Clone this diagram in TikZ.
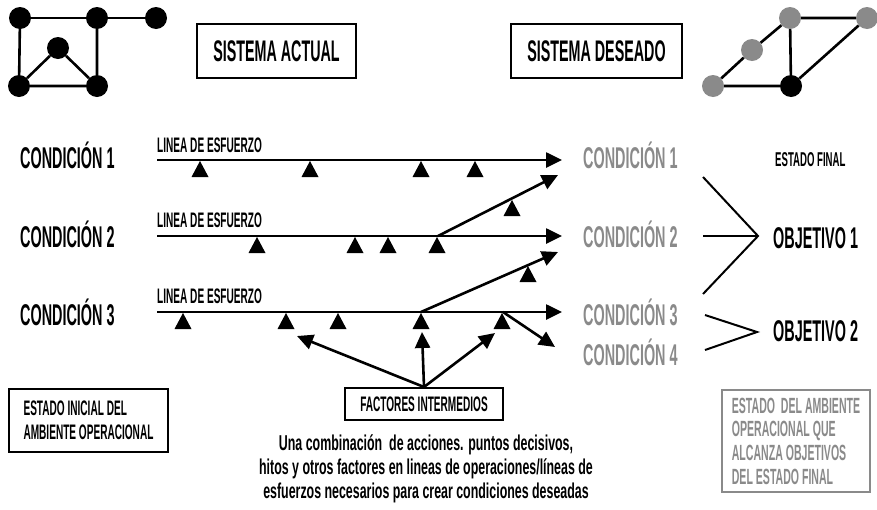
\documentclass[tikz,border=0pt]{standalone}
\usepackage{fontspec}
\setmainfont{Liberation Sans}[FakeStretch=0.48]
\newfontfamily\descfont{Liberation Sans}[FakeStretch=0.577]
\usetikzlibrary{arrows.meta}
\definecolor{gris}{HTML}{8A8A8A}

\begin{document}
\begin{tikzpicture}[x=1pt,y=-1pt,
  every node/.append style={font=\bfseries},
  dot/.style={circle,fill=black,minimum size=22pt,inner sep=0pt},
  gdot/.style={dot,fill=gris},
  edge/.style={line width=2.6pt},
  arr/.style={line width=2.6pt,-{Triangle[length=16pt,width=15pt]}},
  brace/.style={line width=2pt},
  txtbig/.style={font=\fontsize{30}{32}\selectfont\bfseries,inner sep=0pt,anchor=base west},
  txtmid/.style={font=\fontsize{21}{24}\selectfont\bfseries,inner sep=0pt,anchor=base west},
  txtsml/.style={font=\fontsize{20}{24}\selectfont\bfseries,inner sep=0pt,anchor=base west},
  box/.style={draw,line width=2pt,inner sep=0pt,align=left},
  tri/.pic={\fill (0,0) -- (-8.5,16) -- (8.5,16) -- cycle;}
]
\useasboundingbox (0,0) rectangle (877,509);

% --- current system graph ---
\node[dot] (a1) at (20,18) {};
\node[dot] (a2) at (97,18) {};
\node[dot] (a3) at (156,18) {};
\node[dot] (a4) at (58,48) {};
\node[dot] (a5) at (19,86) {};
\node[dot] (a6) at (97,86) {};
\draw[edge] (a1) -- (a2) -- (a3);
\draw[edge] (a1) -- (a5) -- (a6) -- (a2);
\draw[edge] (a5) -- (a4) -- (a6);

% --- desired system graph ---
\node[gdot] (b1) at (790,18) {};
\node[gdot] (b2) at (867,18) {};
\node[gdot] (b3) at (752,50) {};
\node[gdot] (b4) at (713,86) {};
\node[dot]  (b5) at (791,86) {};
\draw[edge] (b1) -- (b2) -- (b5) -- (b4) -- (b3) -- (b1) -- (b5);

% --- title boxes ---
\node[box,font=\fontsize{29.8}{32}\selectfont\bfseries,minimum width=159pt,minimum height=54pt] (sa) at (276.5,51) {SISTEMA ACTUAL};
\node[box,font=\fontsize{29.8}{32}\selectfont\bfseries,minimum width=171pt,minimum height=54pt] (sd) at (596.5,51) {SISTEMA DESEADO};

% --- initial conditions ---
\node[txtbig] (c1) at (20,168) {CONDICIÓN 1};
\node[txtbig] (c2) at (20,247) {CONDICIÓN 2};
\node[txtbig] (c3) at (20,325) {CONDICIÓN 3};

\node[txtmid] (l1) at (157,152) {LINEA DE ESFUERZO};
\node[txtmid] (l2) at (157,227) {LINEA DE ESFUERZO};
\node[txtmid] (l3) at (157,303) {LINEA DE ESFUERZO};

% --- lines of effort ---
\coordinate (s1) at (157,160); \coordinate (e1) at (562,160);
\coordinate (s2) at (157,236); \coordinate (e2) at (562,236);
\coordinate (s3) at (157,312); \coordinate (e3) at (562,312);
\coordinate (k2) at (438,236); \coordinate (t2) at (558,175);
\coordinate (k3) at (421,312); \coordinate (t3) at (558,252);
\coordinate (k4) at (503,312); \coordinate (t4) at (555,347);

\draw[arr] (s1) -- (e1);
\draw[arr] (s2) -- (e2);
\draw[arr] (s3) -- (e3);
\draw[arr] (k2) -- (t2);
\draw[arr] (k3) -- (t3);
\draw[arr] (k4) -- (t4);

% decisive points
\foreach \x in {200,310,421,475} \pic at (\x,161) {tri};
\foreach \x in {257,355,388,437} \pic at (\x,237) {tri};
\foreach \x in {183,286,338,421,502} \pic at (\x,313) {tri};
\pic at (512,200) {tri};
\pic at (528,266) {tri};

% --- desired conditions ---
\node[txtbig,text=gris] (d1) at (583,168) {CONDICIÓN 1};
\node[txtbig,text=gris] (d2) at (583,247) {CONDICIÓN 2};
\node[txtbig,text=gris] (d3) at (583,325) {CONDICIÓN 3};
\node[txtbig,text=gris] (d4) at (583,365) {CONDICIÓN 4};

\node[txtsml] (ef) at (775,166) {ESTADO FINAL};
\node[txtbig] (o1) at (773,248) {OBJETIVO 1};
\node[txtbig] (o2) at (773,341) {OBJETIVO 2};

\coordinate (g1) at (703,177); \coordinate (g2) at (703,236);
\coordinate (g3) at (703,294); \coordinate (gv) at (758,236);
\draw[brace] (g1) -- (gv) -- (g3);
\draw[brace] (g2) -- (gv);
\coordinate (h1) at (705,315); \coordinate (h2) at (705,350);
\coordinate (hv) at (757,332);
\draw[brace] (h1) -- (hv) -- (h2);

% --- intermediate factors ---
\node[box,font=\fontsize{21}{24}\selectfont\bfseries,minimum width=158pt,minimum height=32pt] (fi) at (424,404) {FACTORES INTERMEDIOS};
\coordinate (p1) at (297,336);
\coordinate (p2) at (422,332);
\coordinate (p3) at (495,333);
\draw[arr] (fi.north) -- (p1);
\draw[arr] (fi.north) -- (p2);
\draw[arr] (fi.north) -- (p3);

\node[font=\fontsize{21.5}{24}\descfont\bfseries,align=center,inner sep=0pt] (desc) at (426,469)
  {Una combinación\ \ de acciones. puntos decisivos,\\
   hitos y otros factores en lineas de operaciones/líneas de\\
   esfuerzos necesarios para crear condiciones deseadas};

% --- state boxes ---
\node[box,font=\fontsize{21}{23.5}\selectfont\bfseries,minimum width=159pt,minimum height=63pt] (ei) at (88.5,420.5)
  {ESTADO INICIAL DEL\\AMBIENTE OPERACIONAL};
\node[box,draw=gris,text=gris,font=\fontsize{22}{23.7}\selectfont\bfseries,minimum width=148pt,minimum height=102pt] (ea) at (796,441)
  {ESTADO\ \ DEL AMBIENTE\\OPERACIONAL QUE\\ALCANZA OBJETIVOS\\DEL ESTADO FINAL};
\end{tikzpicture}
\end{document}
